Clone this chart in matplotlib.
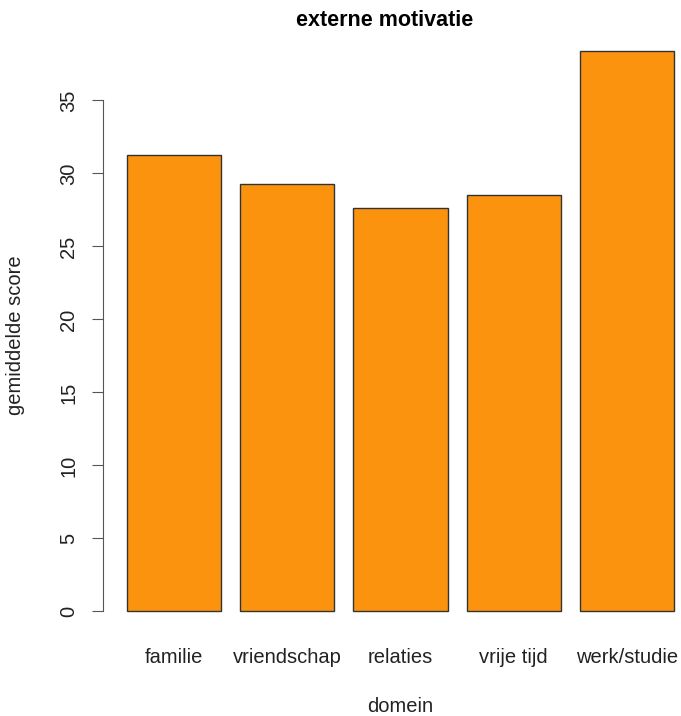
import matplotlib.pyplot as plt

plt.rcParams['font.family'] = ['Liberation Sans', 'DejaVu Sans']

domeinen = ["familie", "vriendschap", "relaties", "vrije tijd", "werk/studie"]
scores = [31.3, 29.3, 27.65, 28.55, 38.4]
yticks = [0, 5, 10, 15, 20, 25, 30, 35]

W, H = 681, 716
fig = plt.figure(figsize=(W / 100, H / 100), dpi=100)

# axes placed in pixel terms, R barplot style (width 1, space 0.2)
xlim = (0.0, 6.06)
ylim = (-1.9, 40.0)
left_px, right_px = 108.1, 679.7
bottom_px, top_px = 639.2, 27.5
ax = fig.add_axes([left_px / W, 1 - bottom_px / H,
                   (right_px - left_px) / W, (bottom_px - top_px) / H])

pos = [0.2 + 1.2 * i + 0.5 for i in range(len(domeinen))]
ax.bar(pos, scores, width=1.0, color="#FB930F", edgecolor="#333333", linewidth=1.0)

ax.set_xlim(*xlim)
ax.set_ylim(*ylim)

for s in ["top", "right", "bottom"]:
    ax.spines[s].set_visible(False)
ax.spines["left"].set_bounds(0, 35)
ax.spines["left"].set_position(("outward", 3.6))
ax.spines["left"].set_color("#555555")

ax.set_yticks(yticks)
ax.set_yticklabels([str(v) for v in yticks], rotation=90, va="center", fontsize=14.5, color="#222222")
ax.tick_params(axis="y", length=8, color="#555555", pad=10)

ax.set_xticks(pos)
ax.set_xticklabels(domeinen, fontsize=14.5, color="#222222")
ax.tick_params(axis="x", length=0, pad=6)

fig.text(385 / W, 1 - 20 / H, "externe motivatie", ha="center", va="center",
         fontsize=15.5, fontweight="bold")
fig.text(400 / W, 1 - 706 / H, "domein", ha="center", va="center", fontsize=14.5, color="#222222")
fig.text(16 / W, 1 - 335 / H, "gemiddelde score", ha="center", va="center",
         rotation=90, fontsize=14.5, color="#222222")

fig.savefig("out.png", dpi=100)
